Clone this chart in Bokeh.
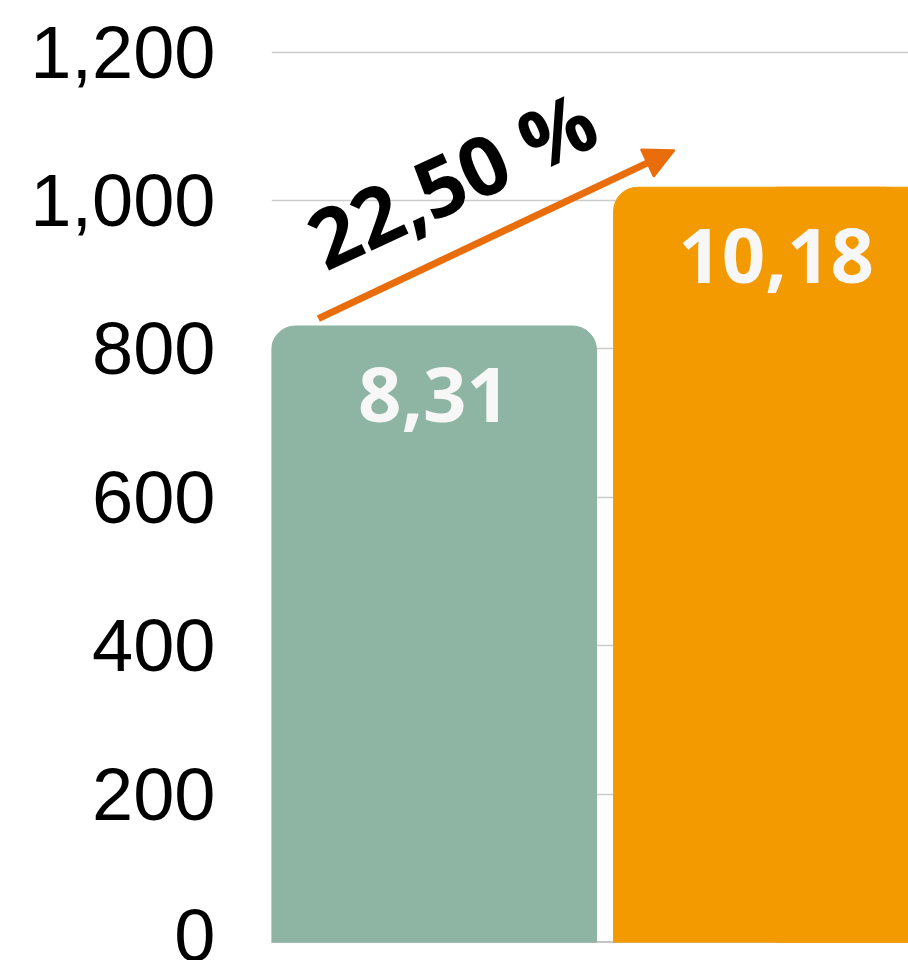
from bokeh.plotting import figure
from bokeh.models import Range1d, FixedTicker, NumeralTickFormatter, ColumnDataSource, Arrow, NormalHead, Label, Span
from bokeh.core.properties import value
from bokeh.embed import file_html
from bokeh.resources import INLINE

# ---- data ----
categories = ["A", "B"]
values = [831, 1018]
bar_labels = ["8,31", "10,18"]
bar_colors = ["#8eb5a3", "#f39a00"]
y_ticks = [0, 200, 400, 600, 800, 1000, 1200]
growth_label = "22,50 %"
# arrow annotation endpoints (data units)
arrow_start = (-0.338, 841)
arrow_end = (0.703, 1068)

BAR_W = 0.95
xs = list(range(len(categories)))
src = ColumnDataSource(dict(x=xs, top=values, color=bar_colors, label=bar_labels))

p = figure(width=908, height=960, output_backend="svg", toolbar_location=None,
           x_range=Range1d(-0.475, 1.387), y_range=Range1d(0, 1205),
           min_border_left=271, min_border_right=0, min_border_top=48, min_border_bottom=18)
p.outline_line_color = None
p.background_fill_color = "white"
p.border_fill_color = "white"

p.add_layout(Span(location=0, dimension="width", line_color="#8a8a8a", line_width=2, level="underlay"))

p.vbar(x="x", top="top", width=BAR_W, bottom=0, color="color", source=src,
       border_radius=(24, 24, 0, 0))
# the last bar runs past the right edge of the chart: its right side is square
p.quad(left=[xs[-1]], right=[xs[-1] + BAR_W / 2], top=[values[-1]], bottom=[0],
       color=bar_colors[-1])

p.text(x="x", y="top", text="label", source=src, text_align="center", text_baseline="middle",
       y_offset=69, text_color="#f7f7f7", text_font=value("Open Sans"), text_font_style="bold",
       text_font_size="76px")

p.add_layout(Arrow(x_start=arrow_start[0], y_start=arrow_start[1], x_end=arrow_end[0], y_end=arrow_end[1],
                   line_color="#e96d0b", line_width=7,
                   end=NormalHead(size=30, fill_color="#e96d0b", line_color="#e96d0b", line_width=2)))

p.add_layout(Label(x=0.05, y=1030, text=growth_label, angle=25, angle_units="deg",
                   text_align="center", text_baseline="middle", text_color="black",
                   text_font="Open Sans", text_font_style="bold", text_font_size="82px"))

p.xaxis.visible = False
p.xgrid.visible = False

p.yaxis.ticker = FixedTicker(ticks=y_ticks)
p.yaxis.formatter = NumeralTickFormatter(format="0,0")
p.yaxis.axis_line_color = None
p.yaxis.major_tick_line_color = None
p.yaxis.minor_tick_line_color = None
p.yaxis.major_label_standoff = 50
p.yaxis.major_label_text_font = "Liberation Sans"
p.yaxis.major_label_text_font_size = "74px"
p.yaxis.major_label_text_color = "black"
p.ygrid.grid_line_color = "#cccccc"
p.ygrid.grid_line_width = 1.5

open("out.html", "w").write(file_html(p, INLINE))
